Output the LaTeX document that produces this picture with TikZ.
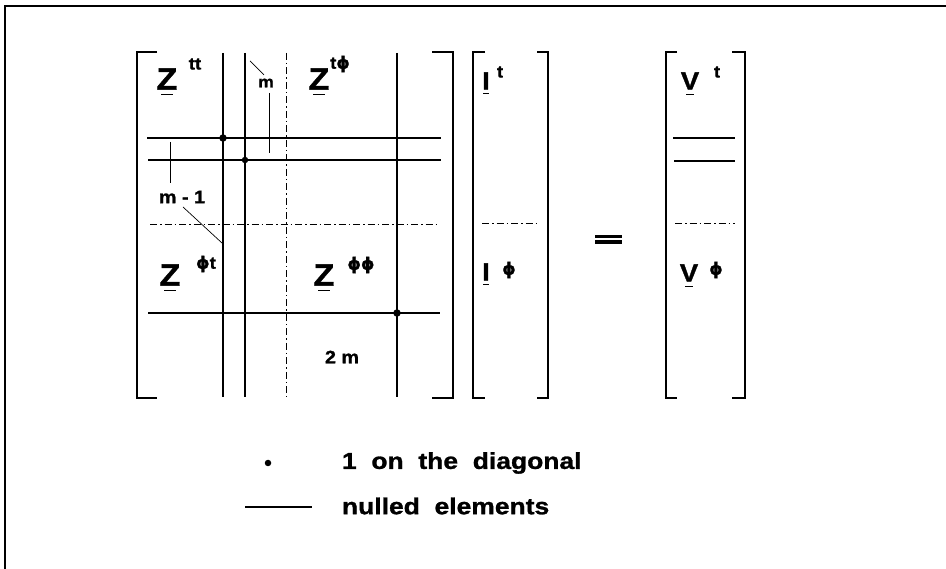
\documentclass[tikz,border=0pt]{standalone}
\usepackage{fontspec}
\setmainfont{Liberation Sans}
\newfontfamily\lf[FakeStretch=1.15,WordSpace=2,FakeBold=1.2]{Liberation Sans Bold}
\newfontfamily\lfn[FakeStretch=1.1,FakeBold=1.2]{Liberation Sans Bold}
\newfontfamily\phf[FakeBold=1.2]{DejaVu Sans Bold}
\newcommand{\myphi}{{\phf ϕ}}
\begin{document}
\begin{tikzpicture}[x=1pt,y=-1pt,
  frameline/.style={line width=2.4pt},
  brk/.style={line width=1.3pt},
  gridline/.style={line width=1.1pt},
  dd/.style={line width=1pt, dash pattern=on 7pt off 3pt on 1.5pt off 3pt},
  lead/.style={line width=0.7pt},
  lbl/.style={inner sep=0pt, outer sep=0pt},
  bigZ/.style={lbl, font=\lfn\fontsize{31}{31}\selectfont},
  vecl/.style={lbl, font=\lfn\fontsize{25}{25}\selectfont},
  supl/.style={lbl, font=\lfn\fontsize{17}{17}\selectfont},
  smalll/.style={lbl, font=\lfn\fontsize{18}{18}\selectfont},
  legtext/.style={lbl, anchor=west, font=\lf\fontsize{23}{23}\selectfont},
  dotmark/.style={circle, fill=black, inner sep=0pt, minimum size=7.5pt},
  ul/.style={line width=1.2pt}]
\useasboundingbox (0,0) rectangle (946,569);
% outer frame (top and left)
\draw[frameline] (5,569) -- (5,6) -- (946,6);

% ---- Z matrix ----
\draw[brk] (157,52) -| (137,398) -- (157,398);
\draw[brk] (432,52) -| (453,398) -- (432,398);
\draw[gridline] (223,53) -- (223,397);
\draw[gridline] (245,53) -- (245,397);
\draw[dd] (286,53) -- (286,397);
\draw[gridline] (397,53) -- (397,397);
\draw[gridline] (147,138) -- (441,138);
\draw[gridline] (148,160) -- (441,160);
\draw[dd] (150,225) -- (438,225);
\draw[gridline] (148,313) -- (440,313);
\node[dotmark] (d1) at (223,138) {};
\node[dotmark, minimum size=6.5pt] (d2) at (245,160) {};
\node[dotmark] (d3) at (397,313) {};

\node[bigZ] (ztt) at (167,79) {Z};
\node[supl] (sztt) at (195,64) {tt};
\node[bigZ] (ztp) at (319,79) {Z};
\node[supl] (sztp) at (340,64) {t\myphi};
\node[bigZ] (zpt) at (170,275) {Z};
\node[supl] (szpt) at (206,264) {\myphi t};
\node[bigZ] (zpp) at (324,275) {Z};
\node[supl] (szpp) at (361,265) {\myphi\myphi};
\foreach \n in {ztt,ztp,zpt,zpp}
  \draw[ul] ([xshift=-6pt,yshift=-5pt]\n.south) -- ([xshift=6pt,yshift=-5pt]\n.south);

% m label
\node[lbl, font=\lfn\fontsize{16}{16}\selectfont] (lm) at (266,83) {m};
\coordinate (lmA) at (250,61);
\coordinate (lmB) at (264,75);
\draw[lead] (lmA) -- (lmB);
\coordinate (tmA) at (269,93);
\coordinate (tmB) at (269,153);
\draw[lead] (tmA) -- (tmB);
% m-1 label
\node[smalll] (lm1) at (182,197) {m - 1};
\coordinate (tm1A) at (170,142);
\coordinate (tm1B) at (170,183);
\draw[lead] (tm1A) -- (tm1B);
\coordinate (dm1A) at (183,207);
\coordinate (dm1B) at (222,243);
\draw[lead] (dm1A) -- (dm1B);
% 2m label
\node[smalll] (l2m) at (342,357) {2 m};

% ---- I vector ----
\draw[brk] (485,52) -| (473,398) -- (485,398);
\draw[brk] (537,52) -| (548,398) -- (537,398);
\draw[dd] (482,224) -- (537,224);
\node[vecl] (it) at (486,81) {I};
\node[supl] (sit) at (500,72) {t};
\node[vecl] (ip) at (486,272) {I};
\node[supl] (sip) at (509,270) {\myphi};
\foreach \n in {it,ip}
  \draw[ul] ([xshift=-3pt,yshift=-4pt]\n.south) -- ([xshift=3pt,yshift=-4pt]\n.south);

% equals
\node[lbl] (eq) at (608,240) {};
\fill (595,235) rectangle (622,238.5);
\fill (595,240.5) rectangle (622,244);

% ---- V vector ----
\draw[brk] (677,52) -| (666,398) -- (677,398);
\draw[brk] (732,52) -| (745,398) -- (732,398);
\draw[gridline] (673,138) -- (735,138);
\draw[gridline] (674,161) -- (735,161);
\draw[dd] (675,224) -- (735,224);
\node[vecl] (vt) at (690,81) {V};
\node[supl] (svt) at (717,72) {t};
\node[vecl] (vp) at (689,273) {V};
\node[supl] (svp) at (716,270) {\myphi};
\foreach \n in {vt,vp}
  \draw[ul] ([xshift=-4pt,yshift=-5pt]\n.south) -- ([xshift=4pt,yshift=-5pt]\n.south);

% ---- legend ----
\node[dotmark, minimum size=6.5pt] (legdot) at (268,463) {};
\coordinate (legA) at (245,507);
\coordinate (legB) at (312,507);
\draw[gridline] (legA) -- (legB);
\node[legtext] (t1) at (342,463) {1 on the diagonal};
\node[legtext] (t2) at (342,506) {nulled elements};
\end{tikzpicture}
\end{document}
